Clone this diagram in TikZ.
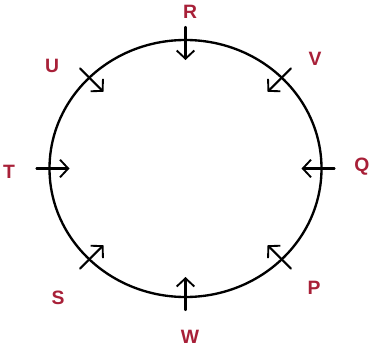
\documentclass[tikz,border=0pt]{standalone}
\usepackage{fontspec}
\setmainfont{Liberation Sans}
\usetikzlibrary{arrows.meta}
\definecolor{LabelRed}{HTML}{A82038}

\begin{document}
\begin{tikzpicture}[x=0.3mm,y=0.3mm,line cap=round,line join=round,
    seat/.style={line width=1.8pt,-{Straight Barb[length=7,width=15,line width=1.6pt]}},
    seatname/.style={text=LabelRed,font=\fontsize{16.5}{19}\selectfont\bfseries,inner sep=0pt}]
  \useasboundingbox (0,0) rectangle (371,353);
  \begin{scope}[shift={(185.5,184.5)}]
    \coordinate (O) at (0,0);
    \draw[line width=2pt] (O) ellipse[x radius=136,y radius=128.5];
    % seats: outer end -> inner end, facing the centre
    \coordinate (Ro) at (90:149 and 141.5);  \coordinate (Ri) at (90:116 and 108.5);
    \coordinate (Vo) at (45:149 and 141.5);  \coordinate (Vi) at (45:116 and 108.5);
    \coordinate (Qo) at (0:149 and 141.5);   \coordinate (Qi) at (0:116 and 108.5);
    \coordinate (Po) at (-45:149 and 141.5); \coordinate (Pi) at (-45:116 and 108.5);
    \coordinate (Wo) at (-90:149 and 141.5); \coordinate (Wi) at (-90:116 and 108.5);
    \coordinate (So) at (-135:149 and 141.5);\coordinate (Si) at (-135:116 and 108.5);
    \coordinate (To) at (180:149 and 141.5); \coordinate (Ti) at (180:116 and 108.5);
    \coordinate (Uo) at (135:149 and 141.5); \coordinate (Ui) at (135:116 and 108.5);
    \draw[seat] (Ro)--(Ri); \draw[seat] (Vo)--(Vi);
    \draw[seat] (Qo)--(Qi); \draw[seat] (Po)--(Pi);
    \draw[seat] (Wo)--(Wi); \draw[seat] (So)--(Si);
    \draw[seat] (To)--(Ti); \draw[seat] (Uo)--(Ui);
  \end{scope}
  \node[seatname] (R) at (190,341) {R};
  \node[seatname] (V) at (315,294) {V};
  \node[seatname] (Q) at (362,186) {Q};
  \node[seatname] (P) at (314,65) {P};
  \node[seatname] (W) at (190,16) {W};
  \node[seatname] (S) at (58,55) {S};
  \node[seatname] (T) at (9,181) {T};
  \node[seatname] (U) at (52,287) {U};
\end{tikzpicture}
\end{document}
